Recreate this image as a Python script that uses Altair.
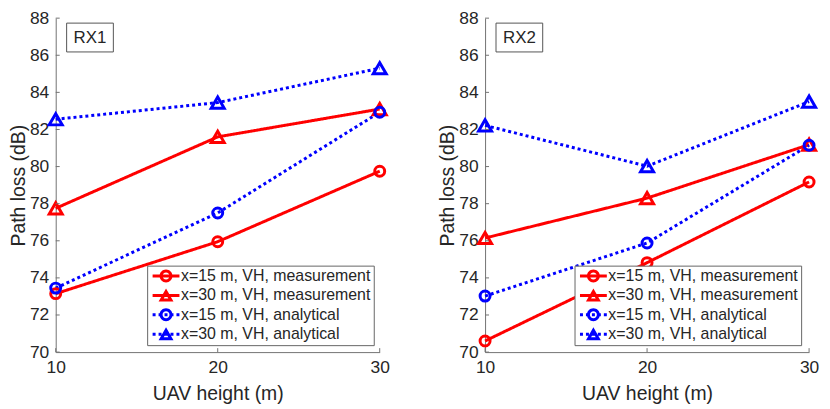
import altair as alt
import pandas as pd

heights = [10, 20, 30]
series = ["x=15 m, VH, measurement", "x=30 m, VH, measurement",
          "x=15 m, VH, analytical", "x=30 m, VH, analytical"]

rx1_meas15 = [73.15, 75.95, 79.75]
rx1_meas30 = [77.75, 81.6, 83.1]
rx1_ana15 = [73.45, 77.5, 82.93]
rx1_ana30 = [82.55, 83.45, 85.3]

rx2_meas15 = [70.6, 74.82, 79.17]
rx2_meas30 = [76.15, 78.3, 81.18]
rx2_ana15 = [73.02, 75.88, 81.15]
rx2_ana30 = [82.22, 80.02, 83.5]

y_ticks = [70, 72, 74, 76, 78, 80, 82, 84, 86, 88]
x_ticks = [10, 20, 30]

colors = ["#ff0000", "#ff0000", "#0000ff", "#0000ff"]
dashes = [[1, 0], [1, 0], [3, 3], [3, 3]]
shapes = ["circle", "triangle-up", "circle", "triangle-up"]
sizes = [100, 170, 100, 170]

# legend glyphs drawn as filled outlines (line + marker), unit = 5 px
LINE = "M-2.7,-0.3H2.7V0.3H-2.7Z"
DOTS = "".join(f"M{c - 0.3:.2f},-0.3h0.6v0.6h-0.6Z" for c in (-2.4, -1.2, 0.0, 1.2, 2.4))
RING = "M1.3,0A1.3,1.3 0 1,1 -1.3,0A1.3,1.3 0 1,1 1.3,0ZM0.7,0A0.7,0.7 0 1,0 -0.7,0A0.7,0.7 0 1,0 0.7,0Z"
TRI = "M0,-1.4L1.5,1.2L-1.5,1.2ZM0,-0.2L-0.46,0.6L0.46,0.6Z"
legend_paths = [LINE + RING, LINE + TRI, DOTS + RING, DOTS + TRI]

FONT = "Liberation Sans"
TXT = "#262626"
AXC = "#737373"
H = 336


def frame(vals):
    rows = []
    for s, ys in zip(series, vals):
        for h, v in zip(heights, ys):
            rows.append({"series": s, "h": h, "pl": v})
    return pd.DataFrame(rows)


def panel(label, vals, lx, ly):
    df = frame(vals)
    base = alt.Chart(df)
    xs = alt.Scale(domain=[10, 30], nice=False)
    ys = alt.Scale(domain=[70, 88], nice=False)
    x = alt.X("h:Q", scale=xs,
              axis=alt.Axis(values=x_ticks, title="UAV height (m)", format="d",
                            labelFlush=False, titlePadding=8))
    y = alt.Y("pl:Q", scale=ys,
              axis=alt.Axis(values=y_ticks, title="Path loss (dB)", format="d",
                            labelFlush=False, titlePadding=1))
    layers = []
    for i, s in enumerate(series):
        sub = base.transform_filter(alt.datum.series == s)
        layers.append(sub.mark_line(strokeWidth=3, strokeCap="butt", color=colors[i],
                                    strokeDash=dashes[i]).encode(x=x, y=y))
    for i, s in enumerate(series):
        sub = base.transform_filter(alt.datum.series == s)
        layers.append(sub.mark_point(shape=shapes[i], filled=False, size=sizes[i], strokeWidth=3,
                                     opacity=1, color=colors[i]).encode(x=x, y=y))
    # inward tick marks (MATLAB style)
    layers.append(alt.Chart(pd.DataFrame({"pl": y_ticks})).mark_rule(color=AXC, strokeWidth=1).encode(
        y=y, x=alt.value(0), x2=alt.value(4)))
    layers.append(alt.Chart(pd.DataFrame({"h": x_ticks})).mark_rule(color=AXC, strokeWidth=1).encode(
        x=x, y=alt.value(H), y2=alt.value(H - 4)))
    # legend-only layer: no rows drawn, entries come from the explicit scale domain
    leg = base.transform_filter(alt.datum.h < 0).mark_point(filled=True, size=100, opacity=1).encode(
        x=x, y=y,
        color=alt.Color("series:N", scale=alt.Scale(domain=series, range=colors),
                        legend=alt.Legend(orient="none", legendX=lx, legendY=ly, title=None,
                                          fillColor="white", strokeColor="#666666",
                                          padding=2.5, labelFont=FONT, labelFontSize=16,
                                          labelColor=TXT, symbolSize=100, symbolStrokeWidth=0,
                                          symbolOpacity=1, rowPadding=3.5, labelOffset=7,
                                          symbolOffset=8.5, labelLimit=400)),
        shape=alt.Shape("series:N", scale=alt.Scale(domain=series, range=legend_paths)),
    )
    layers.append(leg)
    lab = pd.DataFrame({"t": [label]})
    box = alt.Chart(lab).mark_rect(fill="white", stroke="#555555", strokeWidth=1).encode(
        x=alt.value(11), x2=alt.value(58), y=alt.value(5), y2=alt.value(34)
    )
    txt = alt.Chart(lab).mark_text(font=FONT, fontSize=17, color=TXT, align="center",
                                   baseline="middle").encode(
        x=alt.value(34.5), y=alt.value(20), text="t:N"
    )
    layers += [box, txt]
    return alt.layer(*layers).properties(width=326, height=H)


left = panel("RX1", [rx1_meas15, rx1_meas30, rx1_ana15, rx1_ana30], 92, 249)
right = panel("RX2", [rx2_meas15, rx2_meas30, rx2_ana15, rx2_ana30], 90, 249)

chart = alt.hconcat(left, right, spacing=45).resolve_legend(
    color="independent", shape="independent"
).properties(padding=0).configure_view(
    stroke=None
).configure_axis(
    domainColor=AXC, domainWidth=1, ticks=False, grid=False,
    labelFont=FONT, labelFontSize=17.5, labelColor=TXT, labelPadding=7,
    titleFont=FONT, titleFontSize=19.5, titleFontWeight="normal", titleColor=TXT,
)

chart.save("out.html", embed_options={"renderer": "svg", "actions": False})
